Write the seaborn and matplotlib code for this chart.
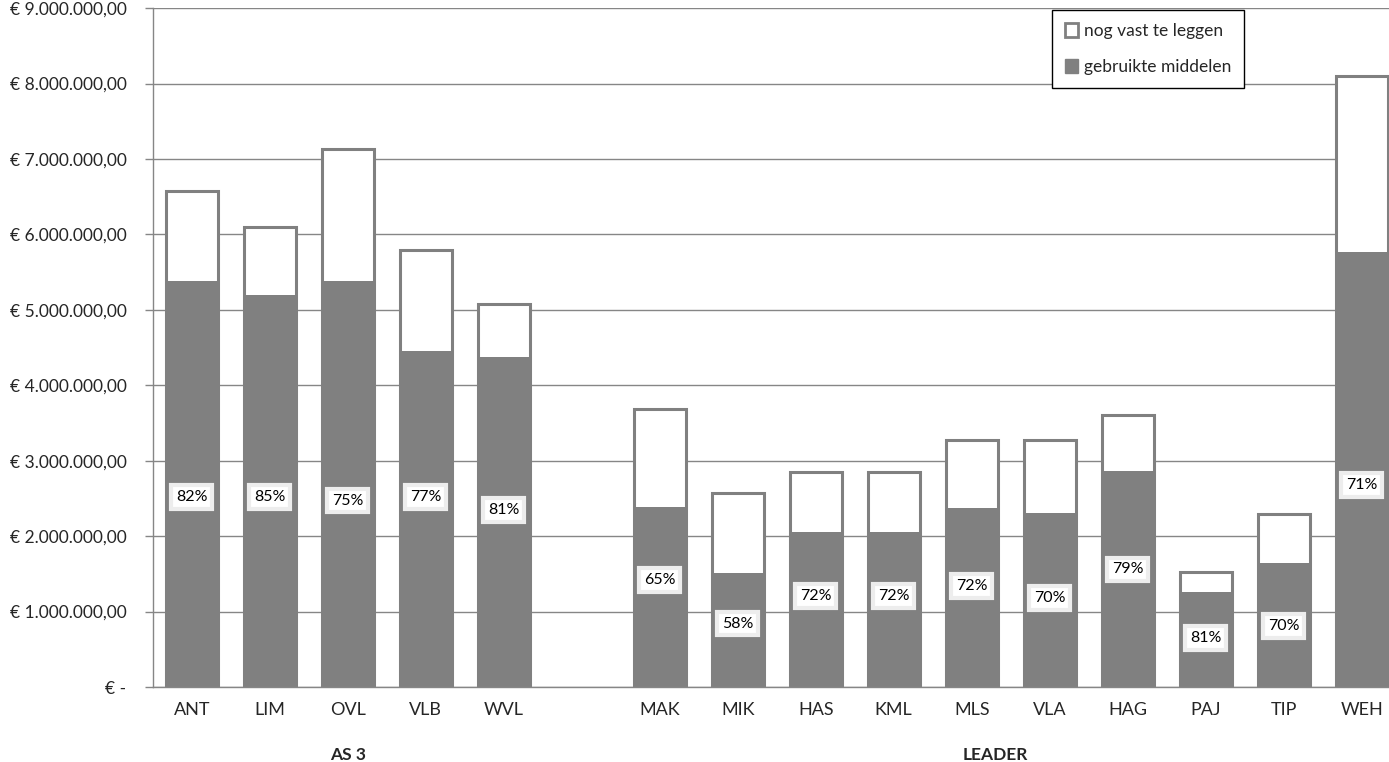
import numpy as np
import pandas as pd
import seaborn as sns
import matplotlib.pyplot as plt
import matplotlib.transforms as mtransforms
from matplotlib.patches import Patch
from matplotlib.ticker import FuncFormatter

# categories (blank slot separates the two groups)
regions = ['ANT', 'LIM', 'OVL', 'VLB', 'WVL', '',
           'MAK', 'MIK', 'HAS', 'KML', 'MLS', 'VLA', 'HAG', 'PAJ', 'TIP', 'WEH']

# total budget and used budget per region (euro)
total = [6.57e6, 6.10e6, 7.13e6, 5.79e6, 5.08e6, np.nan,
         3.68e6, 2.57e6, 2.85e6, 2.85e6, 3.28e6, 3.28e6, 3.60e6, 1.52e6, 2.29e6, 8.10e6]
used = [5.38e6, 5.20e6, 5.38e6, 4.45e6, 4.37e6, np.nan,
        2.39e6, 1.51e6, 2.05e6, 2.05e6, 2.37e6, 2.31e6, 2.87e6, 1.26e6, 1.64e6, 5.77e6]

# percentage labels and the height (euro) where each label sits
pct_labels = ['82%', '85%', '75%', '77%', '81%', '',
              '65%', '58%', '72%', '72%', '72%', '70%', '79%', '81%', '70%', '71%']
label_height = [2.52e6, 2.52e6, 2.47e6, 2.52e6, 2.35e6, np.nan,
                1.42e6, 0.84e6, 1.21e6, 1.21e6, 1.34e6, 1.18e6, 1.56e6, 0.65e6, 0.81e6, 2.68e6]

groups = ['AS 3', 'LEADER']
group_pos = [2, 10.3]

GREY = '#808080'
GRID = '#868686'

df = pd.DataFrame({'regio': regions, 'totaal': total, 'gebruikt': used})

sns.set_style('white')
plt.rcParams['font.family'] = ['Lato', 'DejaVu Sans']

fig = plt.figure(figsize=(13.89, 7.62), dpi=100)
ax = fig.add_axes([0.110, 0.0984, 0.890, 0.891])

# white "still to allocate" bar (full height) and grey used part on top of it
sns.barplot(data=df, x='regio', y='totaal', order=regions, color='white',
            edgecolor=GREY, linewidth=2.2, width=0.665, saturation=1, ax=ax)
sns.barplot(data=df, x='regio', y='gebruikt', order=regions, color=GREY,
            linewidth=0, width=0.665, saturation=1, ax=ax)

for i, (lab, h) in enumerate(zip(pct_labels, label_height)):
    if lab:
        ax.text(i, h, lab, ha='center', va='center', fontsize=11.5,
                color='black', zorder=5,
                bbox=dict(boxstyle='square,pad=0.3', facecolor='white',
                          edgecolor='#ededed', linewidth=3))

ax.set_ylim(0, 9e6)
ax.set_xlim(-0.5, 15.35)
ax.set_yticks(np.arange(0, 9.5e6, 1e6))


def euro(v, pos):
    if v == 0:
        return '€ -'
    s = f'{v:,.2f}'.replace(',', 'X').replace('.', ',').replace('X', '.')
    return '€ ' + s


ax.yaxis.set_major_formatter(FuncFormatter(euro))
ax.set_xlabel('')
ax.set_ylabel('')

ax.set_axisbelow(True)
ax.yaxis.grid(True, color=GRID, linewidth=1)
ax.xaxis.grid(False)
for side in ['top', 'right']:
    ax.spines[side].set_visible(False)
for side in ['left', 'bottom']:
    ax.spines[side].set_color(GRID)
    ax.spines[side].set_linewidth(1)

ax.set_xticks(np.arange(-0.5, 15.5, 1), minor=True)
ax.tick_params(axis='x', which='major', length=0, pad=11, labelsize=13)
ax.tick_params(axis='x', which='minor', length=6, color=GRID, width=1)
ax.tick_params(axis='y', which='major', length=6, color=GRID, width=1,
               left=True, labelsize=12.5, pad=13)

trans = mtransforms.blended_transform_factory(ax.transData, ax.transAxes)
for name, x in zip(groups, group_pos):
    ax.text(x, -0.1, name, transform=trans, ha='center', va='center',
            fontsize=12.5, fontweight='bold')

handles = [Patch(facecolor='white', edgecolor=GREY, linewidth=2),
           Patch(facecolor=GREY, edgecolor=GREY)]
leg = ax.legend(handles, ['nog vast te leggen', 'gebruikte middelen'],
                loc='upper left', bbox_to_anchor=(0.727, 0.997), borderaxespad=0,
                fontsize=12.5, handlelength=0.8, handleheight=0.8, handletextpad=0.3,
                labelspacing=1.15, borderpad=0.75, fancybox=False, framealpha=1)
leg.get_frame().set_edgecolor('black')
leg.get_frame().set_linewidth(1)

fig.savefig('out.png', dpi=100)
